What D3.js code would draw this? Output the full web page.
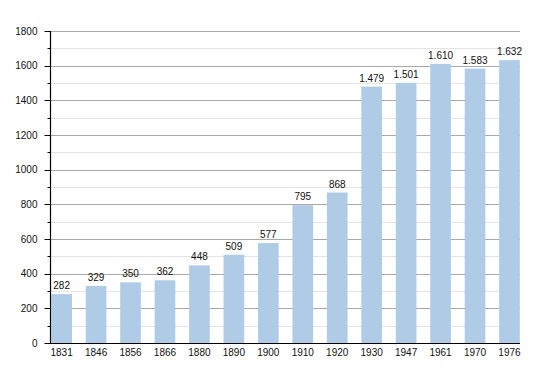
<!DOCTYPE html>
<html><head><meta charset="utf-8">
<script src="https://cdn.jsdelivr.net/npm/d3@7"></script>
<style>body{margin:0;background:#fff;}svg{display:block;font-family:"Liberation Sans",Arial,Helvetica,sans-serif;}</style>
</head><body>
<svg id="c" width="550" height="373"></svg>
<script>
const years = ["1831","1846","1856","1866","1880","1890","1900","1910","1920","1930","1947","1961","1970","1976"];
const population = [282,329,350,362,448,509,577,795,868,1479,1501,1610,1583,1632];
const yTicks = [0,200,400,600,800,1000,1200,1400,1600,1800];
const yMinor = [100,300,500,700,900,1100,1300,1500,1700];

const svg = d3.select("#c");
const axisX = 50, plotRight = 520, yTop = 31, yBottom = 343;
const y = d3.scaleLinear().domain([0,1800]).range([yBottom, yTop]);
const x = d3.scaleBand().domain(years).range([51.3, 519.8]).paddingInner(0.4).paddingOuter(0);
const fmt = d3.formatLocale({decimal:",", thousands:".", grouping:[3], currency:["",""]}).format(",d");

// minor gridlines
svg.append("g").selectAll("line").data(yMinor).join("line")
  .attr("x1", axisX).attr("x2", plotRight)
  .attr("y1", d => Math.round(y(d)) + 0.5).attr("y2", d => Math.round(y(d)) + 0.5)
  .attr("stroke", "#e4e4e4").attr("stroke-width", 1);
// major gridlines
svg.append("g").selectAll("line").data(yTicks.filter(d => d > 0)).join("line")
  .attr("x1", axisX).attr("x2", plotRight)
  .attr("y1", d => Math.round(y(d)) + 0.5).attr("y2", d => Math.round(y(d)) + 0.5)
  .attr("stroke", "#a8a8a8").attr("stroke-width", 1);

// bars
svg.append("g").selectAll("rect").data(years).join("rect")
  .attr("x", d => x(d)).attr("width", x.bandwidth())
  .attr("y", (d,i) => y(population[i])).attr("height", (d,i) => y(0) - y(population[i]))
  .attr("fill", "#b0cbe6");

// value labels
svg.append("g").selectAll("text").data(years).join("text")
  .attr("x", d => x(d) + x.bandwidth()/2)
  .attr("y", (d,i) => y(population[i]) - 5)
  .attr("text-anchor", "middle").attr("font-size", 10).attr("fill", "#111")
  .text((d,i) => fmt(population[i]));

// y axis
const yAxis = svg.append("g").attr("transform", `translate(${axisX + 0.5},0)`);
yAxis.append("line").attr("x1",0).attr("x2",0).attr("y1", y(1800)).attr("y2", y(0)).attr("stroke","#000").attr("stroke-width",1.2);
yAxis.selectAll(".maj").data(yTicks).join("line").attr("class","maj")
  .attr("x1",-6).attr("x2",0).attr("y1", d => Math.round(y(d))+0.5).attr("y2", d => Math.round(y(d))+0.5)
  .attr("stroke","#000").attr("stroke-width",1);
yAxis.selectAll(".min").data(yMinor).join("line").attr("class","min")
  .attr("x1",-3).attr("x2",0).attr("y1", d => Math.round(y(d))+0.5).attr("y2", d => Math.round(y(d))+0.5)
  .attr("stroke","#000").attr("stroke-width",1);
yAxis.selectAll("text").data(yTicks).join("text")
  .attr("x",-13).attr("y", d => y(d)).attr("dy","0.35em")
  .attr("text-anchor","end").attr("font-size",10).attr("fill","#111")
  .text(d => d);

// x axis
const xAxis = svg.append("g");
xAxis.append("line").attr("x1", axisX).attr("x2", plotRight).attr("y1", yBottom + 0.5).attr("y2", yBottom + 0.5)
  .attr("stroke","#000").attr("stroke-width",1.2);
xAxis.selectAll("text").data(years).join("text")
  .attr("x", d => x(d) + x.bandwidth()/2).attr("y", 355.5)
  .attr("text-anchor","middle").attr("font-size",10).attr("fill","#111")
  .text(d => d);
</script>
</body></html>
